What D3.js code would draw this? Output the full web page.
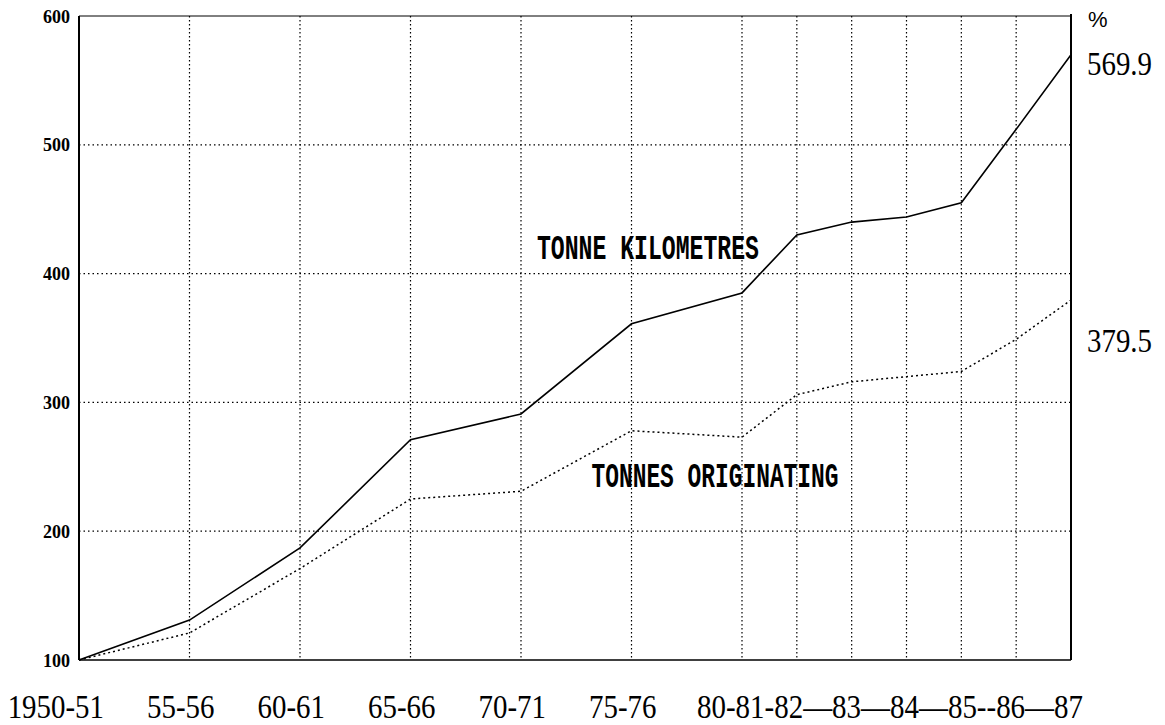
<!DOCTYPE html>
<html><head><meta charset="utf-8">
<script src="https://cdn.jsdelivr.net/npm/d3@7"></script>
<style>body{margin:0;background:#fff}svg{display:block}</style>
</head><body><svg id="c" width="1165" height="725"></svg>
<script>
// ---- data ----
const categories = ["1950-51","55-56","60-61","65-66","70-71","75-76","80-81","81-82","82-83","83-84","84-85","85-86","86-87"];
const tonneKm    = [100, 131, 187, 271, 291, 361, 385, 430, 440, 444, 455, 512, 569.9];
const tonnesOrig = [100, 121, 171, 225, 231, 278, 273, 306, 316, 320, 324, 349, 379.5];
const yTicks = [100, 200, 300, 400, 500, 600];
const xTickLabels = ["1950-51","55-56","60-61","65-66","70-71","75-76"];
const xTailLabel = "80-81-82—83—84—85--86—87";
const seriesNames = ["TONNE KILOMETRES","TONNES ORIGINATING"];
const endLabels = ["569.9","379.5"];
const unitLabel = "%";

// ---- scales ----
const svg = d3.select("#c");
const x = d3.scaleLinear().domain([0, 6, 12]).range([79, 742, 1071]);
const y = d3.scaleLinear().domain([100, 600]).range([660, 16]);
const idx = categories.map((d,i)=>i);

// gridlines
svg.append("g").selectAll("line").data(yTicks.slice(1,-1)).join("line")
  .attr("x1", x(0)).attr("x2", x(12))
  .attr("y1", d=>y(d)).attr("y2", d=>y(d))
  .attr("stroke","#000").attr("stroke-width",1.2).attr("stroke-dasharray","1.5,3");
svg.append("g").selectAll("line").data(idx.slice(1,-1)).join("line")
  .attr("x1", d=>x(d)).attr("x2", d=>x(d))
  .attr("y1", y(600)).attr("y2", y(100))
  .attr("stroke","#000").attr("stroke-width",1.2).attr("stroke-dasharray","1.5,2.5");

// frame
const fr = svg.append("g").attr("stroke","#000").attr("fill","none");
fr.append("line").attr("x1",x(0)).attr("x2",x(12)).attr("y1",y(600)).attr("y2",y(600)).attr("stroke-width",1);
fr.append("line").attr("x1",x(0)).attr("x2",x(12)).attr("y1",y(100)).attr("y2",y(100)).attr("stroke-width",1.5);
fr.append("line").attr("x1",x(0)).attr("x2",x(0)).attr("y1",y(600)).attr("y2",y(100)).attr("stroke-width",2);
fr.append("line").attr("x1",x(12)).attr("x2",x(12)).attr("y1",y(600)-2).attr("y2",y(100)).attr("stroke-width",2);

// series
const line = d3.line().x((d,i)=>x(i)).y(d=>y(d));
svg.append("path").datum(tonneKm).attr("d", line)
  .attr("fill","none").attr("stroke","#000").attr("stroke-width",1.6);
svg.append("path").datum(tonnesOrig).attr("d", line)
  .attr("fill","none").attr("stroke","#000").attr("stroke-width",1.5).attr("stroke-dasharray","2,3");

// helper to condense text
function condense(sel, f){ sel.each(function(){ const w=this.getComputedTextLength(); d3.select(this).attr("textLength", w*f).attr("lengthAdjust","spacingAndGlyphs"); }); }

// y tick labels
svg.append("g").selectAll("text").data(yTicks).join("text")
  .attr("x", x(0)-9).attr("y", d=>y(d)).attr("dy","0.35em")
  .attr("text-anchor","end")
  .style("font-family","'Liberation Serif'").style("font-weight","bold").style("font-size","19px")
  .text(d=>d).call(condense, 0.95);

// x tick labels
svg.append("g").selectAll("text").data(xTickLabels).join("text")
  .attr("x", (d,i)=>x(i)+25).attr("y", y(100)+58)
  .attr("text-anchor","end")
  .style("font-family","'Liberation Serif'").style("font-size","34px")
  .text(d=>d).call(condense, 0.85);
svg.append("text")
  .attr("x", x(12)+12).attr("y", y(100)+58).attr("text-anchor","end")
  .attr("textLength", (x(12)+12)-(x(6)-45)).attr("lengthAdjust","spacingAndGlyphs")
  .style("font-family","'Liberation Serif'").style("font-size","34px")
  .text(xTailLabel);

// series labels
const ann = [
  {t: seriesNames[0], xi: 4, dx: 16, v: 411.5, w: 222},
  {t: seriesNames[1], xi: 5, dx: -40, v: 234.3, w: 247}
];
svg.append("g").selectAll("text").data(ann).join("text")
  .attr("x", d=>x(d.xi)+d.dx).attr("y", d=>y(d.v))
  .attr("textLength", d=>d.w).attr("lengthAdjust","spacingAndGlyphs")
  .style("font-family","'Liberation Mono'").style("font-weight","bold").style("font-size","35px")
  .text(d=>d.t);

// end labels
svg.append("text").attr("x", x(12)+17).attr("y", y(600)+11)
  .style("font-family","'Liberation Sans'").style("font-size","22px").text(unitLabel);
const ends = [
  {t: endLabels[0], v: tonneKm[12], dy: 20},
  {t: endLabels[1], v: tonnesOrig[12], dy: 52}
];
svg.append("g").selectAll("text").data(ends).join("text")
  .attr("x", x(12)+16).attr("y", d=>y(d.v)+d.dy)
  .style("font-family","'Liberation Serif'").style("font-size","34px")
  .text(d=>d.t).call(condense, 0.85);
</script>
</body></html>
